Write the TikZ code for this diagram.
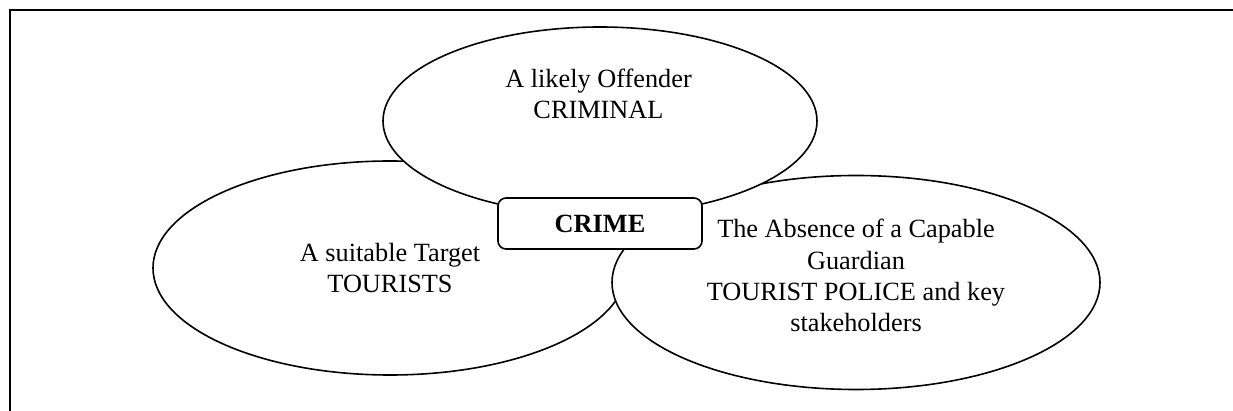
\documentclass[tikz,border=0pt]{standalone}
\usepackage{fontspec}
\setmainfont{Liberation Serif}
\usetikzlibrary{shapes.geometric}
\begin{document}
\begin{tikzpicture}[x=1pt,y=-1pt,
  oval/.style={ellipse,draw=black,fill=white,line width=1.6pt,inner sep=0pt,outer sep=0pt},
  % the base anchor of a multi-line label sits on its last line
  lbl/.style={align=center,inner sep=0pt,anchor=base,font=\fontsize{26.3}{31}\selectfont},
  core/.style={rectangle,rounded corners=8pt,draw=black,fill=white,line width=1.6pt,
    minimum width=204pt,minimum height=51pt,inner sep=0pt,
    font=\fontsize{26.3}{31}\selectfont\bfseries}]
  \useasboundingbox (0,0) rectangle (1233,411);
  % outer frame
  \draw[line width=2pt] (10,411) -- (10,10) -- (1233,10);
  % the three circles of routine activity
  \node[oval,minimum width=474pt,minimum height=214pt] (target) at (390,268) {};
  \node[oval,minimum width=488pt,minimum height=214pt] (guard) at (856,282.5) {};
  \node[oval,minimum width=434pt,minimum height=188pt] (offender) at (600,121) {};
  \node[lbl] (offtxt) at (598.5,119) {A likely Offender\\CRIMINAL};
  \node[lbl] (tgttxt) at (390,293) {A suitable Target\\TOURISTS};
  \node[lbl] (grdtxt) at (856,331) {The Absence of a Capable\\Guardian\\TOURIST POLICE and key\\stakeholders};
  % centre
  \node[core] (crime) at (600,223.5) {CRIME};
\end{tikzpicture}
\end{document}
